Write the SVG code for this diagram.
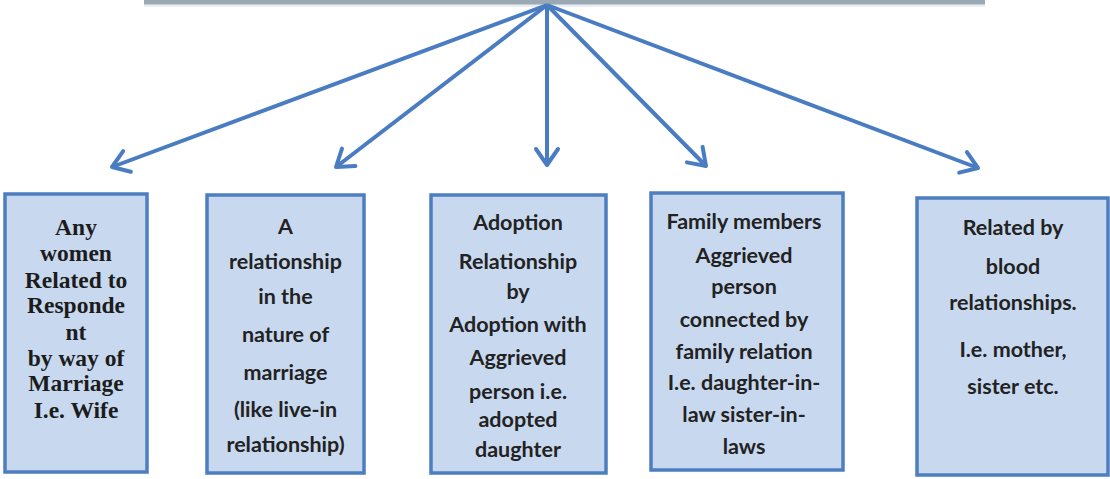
<svg xmlns="http://www.w3.org/2000/svg" width="1110" height="479" viewBox="0 0 1110 479">
<defs>
<style>
.box{fill:#c8d9ef;stroke:#4d7ebf;stroke-width:3.5}
.serif{font-family:"Liberation Serif","Times New Roman",serif;font-weight:700;font-size:23.5px;fill:#1c1c1c;text-anchor:middle}
.sans{font-family:Lato,"Open Sans",sans-serif;font-weight:700;font-size:21.5px;fill:#222222;text-anchor:middle}
.conn{stroke:#4a7cc2;stroke-width:4;fill:none;marker-end:url(#arr)}
</style>
<marker id="arr" markerUnits="userSpaceOnUse" markerWidth="40" markerHeight="40" refX="0" refY="0" viewBox="-20 -20 40 40" orient="auto" overflow="visible">
<path d="M -16 -11 L 0 0 L -16 11" fill="none" stroke="#4a7cc2" stroke-width="4" stroke-linecap="round" stroke-linejoin="round"/>
</marker>
</defs>
<rect width="1110" height="479" fill="#ffffff"/>
<g id="topbar">
<rect x="144" y="4" width="841" height="3" fill="#e8eef2"/>
<rect x="144" y="0" width="841" height="4.5" fill="#9aa9b3"/>
</g>
<g id="connectors">
<line class="conn" x1="547" y1="5" x2="112" y2="167"/>
<line class="conn" x1="547" y1="5" x2="336" y2="167"/>
<line class="conn" x1="547" y1="5" x2="547" y2="165"/>
<line class="conn" x1="547" y1="5" x2="706" y2="166"/>
<line class="conn" x1="547" y1="5" x2="978" y2="168"/>
</g>
<g id="node1">
<rect class="box" x="5" y="194" width="142" height="278"/>
<text class="serif"><tspan x="76" y="235">Any</tspan><tspan x="76" y="261">women</tspan><tspan x="76" y="288">Related to</tspan><tspan x="76" y="313">Responde</tspan><tspan x="76" y="340">nt</tspan><tspan x="76" y="366">by way of</tspan><tspan x="76" y="391">Marriage</tspan><tspan x="76" y="418">I.e. Wife</tspan></text>
</g>
<g id="node2">
<rect class="box" x="207" y="195" width="157" height="278"/>
<text class="sans"><tspan x="285.5" y="234">A</tspan><tspan x="285.5" y="269">relationship</tspan><tspan x="285.5" y="304">in the</tspan><tspan x="285.5" y="342">nature of</tspan><tspan x="285.5" y="380">marriage</tspan><tspan x="285.5" y="417">(like live-in</tspan><tspan x="285.5" y="452">relationship)</tspan></text>
</g>
<g id="node3">
<rect class="box" x="431" y="195" width="175" height="278"/>
<text class="sans"><tspan x="518" y="230">Adoption</tspan><tspan x="518" y="269">Relationship</tspan><tspan x="518" y="299">by</tspan><tspan x="518" y="332">Adoption with</tspan><tspan x="518" y="365">Aggrieved</tspan><tspan x="518" y="399">person i.e.</tspan><tspan x="518" y="427">adopted</tspan><tspan x="518" y="457">daughter</tspan></text>
</g>
<g id="node4">
<rect class="box" x="651" y="193" width="192" height="277"/>
<text class="sans"><tspan x="744" y="229">Family members</tspan><tspan x="744" y="263">Aggrieved</tspan><tspan x="744" y="294">person</tspan><tspan x="744" y="327">connected by</tspan><tspan x="744" y="359">family relation</tspan><tspan x="744" y="390">I.e. daughter-in-</tspan><tspan x="744" y="422">law sister-in-</tspan><tspan x="744" y="454">laws</tspan></text>
</g>
<g id="node5">
<rect class="box" x="917" y="198" width="191" height="277"/>
<text class="sans"><tspan x="1013" y="235">Related by</tspan><tspan x="1013" y="274">blood</tspan><tspan x="1013" y="310">relationships.</tspan><tspan x="1013" y="357">I.e. mother,</tspan><tspan x="1013" y="394">sister etc.</tspan></text>
</g>
</svg>
